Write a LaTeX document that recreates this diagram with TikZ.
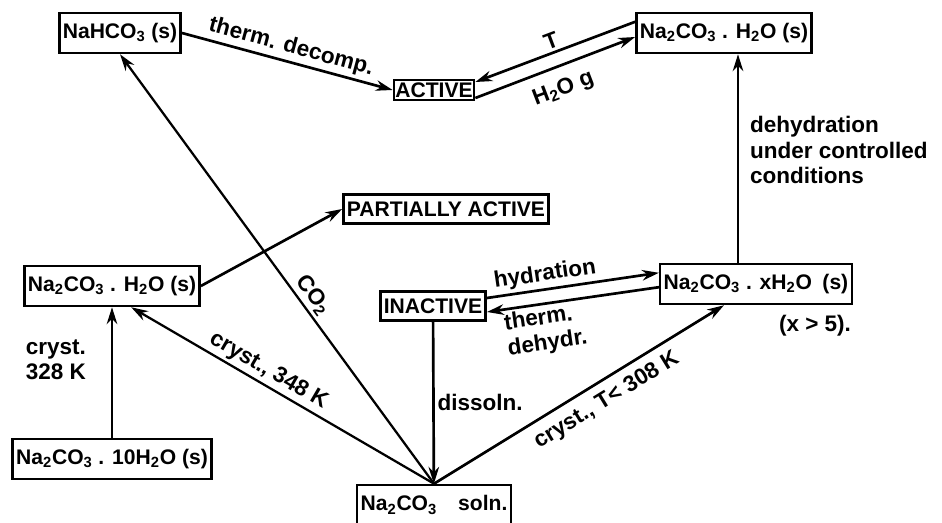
\documentclass[tikz,border=0pt]{standalone}
\usepackage{fontspec}
\setmainfont{Liberation Sans}
\usetikzlibrary{arrows.meta}

\begin{document}
\begin{tikzpicture}[x=0.025cm, y=-0.025cm, line width=1.9pt,
    >={Stealth[length=12pt,width=7.5pt]},
    box/.style={draw, line width=1.8pt, inner sep=2.5pt, minimum height=1cm,
      font=\fontsize{15}{16}\selectfont\bfseries},
    caps/.style={minimum height=0.72cm},
    lbl/.style={font=\fontsize{16}{18}\selectfont\bfseries, inner sep=2pt}]
  \useasboundingbox (0,0) rectangle (942,523);

  \node[box] (nahco) at (120,33) {NaHCO\textsubscript{3} (s)};
  \node[box, minimum height=0.5cm, inner sep=1pt] (active) at (434,90) {ACTIVE};
  \node[box] (monoTR) at (724,33) {Na\textsubscript{2}CO\textsubscript{3} . H\textsubscript{2}O (s)};
  \node[box, caps] (partial) at (446,209) {PARTIALLY ACTIVE};
  \node[box] (monoL) at (112,286) {Na\textsubscript{2}CO\textsubscript{3} . H\textsubscript{2}O (s)};
  \node[box, caps] (inactive) at (433,306) {INACTIVE};
  \node[box] (xhyd) at (756,284) {Na\textsubscript{2}CO\textsubscript{3} . xH\textsubscript{2}O\enspace (s)};
  \node[lbl] (xcond) at (815,326) {(x > 5).};
  \node[box] (deca) at (112,459) {Na\textsubscript{2}CO\textsubscript{3} . 10H\textsubscript{2}O (s)};
  \node[box] (soln) at (434,505) {Na\textsubscript{2}CO\textsubscript{3}\quad soln.};
  \coordinate (vx) at (738,0);

  \draw[->] (nahco.east) -- node[lbl, above, sloped] {therm. decomp.} (active.west);
  \draw[->] ([yshift=0.28cm]monoTR.west) -- node[lbl, above, sloped] {T} ([yshift=0.2cm]active.east);
  \draw[->] ([yshift=-0.2cm]active.east) -- node[lbl, below=6pt, sloped] {H\textsubscript{2}O g} ([yshift=-0.1cm]monoTR.west);
  \draw[->] (xhyd.north -| vx) -- node[lbl, right=0.2cm, align=left, pos=0.54] {dehydration\\under controlled\\conditions} (monoTR.south -| vx);
  \draw[->] (monoL.east) -- (partial.west);
  \draw[->] ([yshift=0.2cm]inactive.east) -- node[lbl, above, sloped, pos=0.35] {hydration} ([yshift=0.28cm]xhyd.west);
  \draw[->] ([yshift=-0.08cm]xhyd.west) -- node[lbl, below, sloped, align=left, pos=0.68] {therm.\\dehydr.} ([yshift=-0.15cm]inactive.east);
  \draw[->] (inactive) -- node[lbl, right] {dissoln.} (soln);
  \draw[->] (deca) -- node[lbl, left=0.55cm, align=left, pos=0.6] {cryst.\\328 K} (monoL);
  \draw[->, line width=1.6pt] (soln.north) -- node[lbl, above, sloped, pos=0.42] {CO\textsubscript{2}} (nahco.south);
  \draw[->, line width=1.6pt] (soln.north) -- node[lbl, above, sloped, pos=0.57] {cryst., 348 K} ([xshift=0.48cm]monoL.south);
  \draw[->] (soln.north) -- node[lbl, below=4pt, sloped, pos=0.56] {cryst., T< 308 K} ([xshift=-0.8cm]xhyd.south);
\end{tikzpicture}
\end{document}
